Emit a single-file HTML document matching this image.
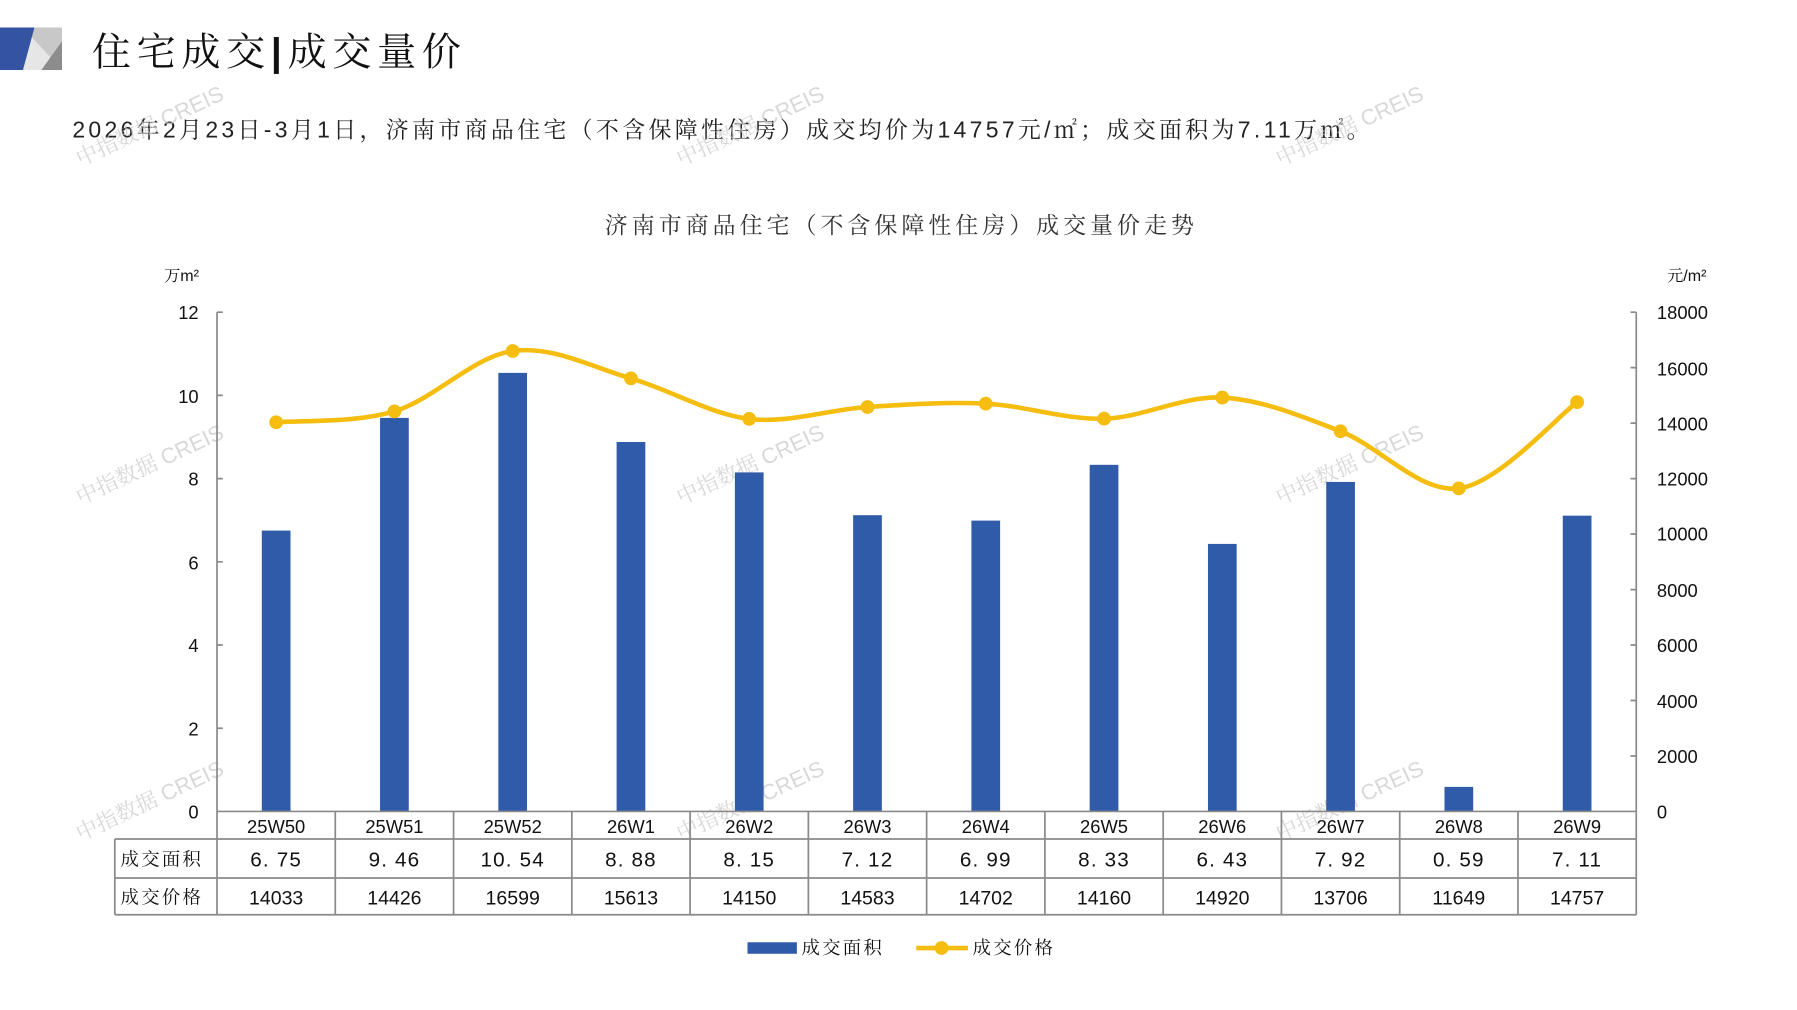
<!DOCTYPE html>
<html><head><meta charset="utf-8"><style>
html,body{margin:0;padding:0;background:#fff;}
svg{display:block;}
.s{font-family:"Liberation Sans","Noto Serif CJK SC",sans-serif;}
.c{font-family:"Noto Serif CJK SC","Noto Serif CJK JP","Liberation Serif",serif;}
</style></head><body>
<svg width="1797" height="1010" viewBox="0 0 1565 880" preserveAspectRatio="none" xmlns="http://www.w3.org/2000/svg">
<rect width="1565" height="880" fill="#fff"/>
<!-- logo -->
<polygon points="0,24 54,24 54,61 0,61" fill="#c8c8c8"/>
<polygon points="20,24 54,61 20,61" fill="#e6e6e6"/>
<polygon points="54,36 54,61 36,61 " fill="#8c8c8c"/>
<polygon points="0,24 30,24 20,61 0,61" fill="#3553a3"/>
<text x="80" y="57" class="c" font-size="34" fill="#111" letter-spacing="5">住宅成交<tspan font-family="Liberation Sans" font-weight="bold">|</tspan>成交量价</text>
<text x="63" y="120" class="s" font-size="20" fill="#222" letter-spacing="2.9">2026年2月23日-3月1日，济南市商品住宅（不含保障性住房）成交均价为14757元/㎡；成交面积为7.11万㎡。</text>
<text x="785" y="203" class="c" font-size="20" fill="#333" text-anchor="middle" letter-spacing="3.5">济南市商品住宅（不含保障性住房）成交量价走势</text>
<!-- watermarks -->
<g fill="#c8c8c8" opacity="0.7" font-size="19" class="s">
<text transform="translate(70,145) rotate(-25)">中指数据 CREIS</text>
<text transform="translate(593,145) rotate(-25)">中指数据 CREIS</text>
<text transform="translate(1115,145) rotate(-25)">中指数据 CREIS</text>
<text transform="translate(70,440) rotate(-25)">中指数据 CREIS</text>
<text transform="translate(593,440) rotate(-25)">中指数据 CREIS</text>
<text transform="translate(1115,440) rotate(-25)">中指数据 CREIS</text>
<text transform="translate(70,733) rotate(-25)">中指数据 CREIS</text>
<text transform="translate(593,733) rotate(-25)">中指数据 CREIS</text>
<text transform="translate(1115,733) rotate(-25)">中指数据 CREIS</text>
</g>
<!-- axes -->
<g stroke="#8a8a8a" stroke-width="1.5" fill="none">
<line x1="189" y1="272" x2="189" y2="707"/>
<line x1="1425" y1="272" x2="1425" y2="707"/>
<path d="M189 272h5M189 344.5h5M189 417h5M189 489.5h5M189 562h5M189 634.5h5"/>
<path d="M1425 272h-5M1425 320.3h-5M1425 368.7h-5M1425 417h-5M1425 465.3h-5M1425 513.7h-5M1425 562h-5M1425 610.3h-5M1425 658.7h-5"/>
</g>
<g class="s" font-size="16" fill="#111" text-anchor="end">
<text x="173" y="278">12</text><text x="173" y="351">10</text><text x="173" y="423">8</text><text x="173" y="496">6</text><text x="173" y="568">4</text><text x="173" y="641">2</text><text x="173" y="713">0</text>
</g>
<g class="s" font-size="16" fill="#111">
<text x="1443" y="278">18000</text><text x="1443" y="327">16000</text><text x="1443" y="375">14000</text><text x="1443" y="423">12000</text><text x="1443" y="471">10000</text><text x="1443" y="520">8000</text><text x="1443" y="568">6000</text><text x="1443" y="617">4000</text><text x="1443" y="665">2000</text><text x="1443" y="713">0</text>
</g>
<text x="143" y="245" class="s" font-size="14" fill="#111">万m²</text>
<text x="1452" y="245" class="s" font-size="14" fill="#111">元/m²</text>
<!-- bars -->
<g fill="#2f5ba8">
<rect x="228" y="462.3" width="25" height="244.7"/>
<rect x="331" y="364.1" width="25" height="342.9"/>
<rect x="434" y="324.9" width="25" height="382.1"/>
<rect x="537" y="385.1" width="25" height="321.9"/>
<rect x="640" y="411.6" width="25" height="295.4"/>
<rect x="743" y="448.9" width="25" height="258.1"/>
<rect x="846" y="453.6" width="25" height="253.4"/>
<rect x="949" y="405.0" width="25" height="302"/>
<rect x="1052" y="473.9" width="25" height="233.1"/>
<rect x="1155" y="419.9" width="25" height="287.1"/>
<rect x="1258" y="685.6" width="25" height="21.4"/>
<rect x="1361" y="449.3" width="25" height="257.7"/>
</g>
<!-- line -->
<path fill="none" stroke="#f5bd0f" stroke-width="4" d="M240.5 367.9 C257.7 366.3 309.2 368.75 343.5 358.4 C377.8 348.05 412.2 310.6 446.5 305.8 C480.8 301 515.2 319.8 549.5 329.7 C583.8 339.6 618.2 360.85 652.5 365 C686.8 369.15 721.2 356.8 755.5 354.6 C789.8 352.4 824.2 350 858.5 351.7 C892.8 353.4 927.2 365.7 961.5 364.8 C995.8 363.9 1030.2 344.6 1064.5 346.4 C1098.8 348.2 1133.2 362.6 1167.5 375.8 C1201.8 389 1236.2 429.7 1270.5 425.5 C1304.8 421.3 1356.3 362.9 1373.5 350.4"/>
<g fill="#f5bd0f">
<circle cx="240.5" cy="367.9" r="6"/><circle cx="343.5" cy="358.4" r="6"/><circle cx="446.5" cy="305.8" r="6"/><circle cx="549.5" cy="329.7" r="6"/><circle cx="652.5" cy="365" r="6"/><circle cx="755.5" cy="354.6" r="6"/><circle cx="858.5" cy="351.7" r="6"/><circle cx="961.5" cy="364.8" r="6"/><circle cx="1064.5" cy="346.4" r="6"/><circle cx="1167.5" cy="375.8" r="6"/><circle cx="1270.5" cy="425.5" r="6"/><circle cx="1373.5" cy="350.4" r="6"/>
</g>
<!-- table -->
<g stroke="#8a8a8a" stroke-width="1.5" fill="none">
<line x1="189" y1="707" x2="1425" y2="707"/>
<line x1="100" y1="731" x2="1425" y2="731"/>
<line x1="100" y1="765" x2="1425" y2="765"/>
<line x1="100" y1="797" x2="1425" y2="797"/>
<line x1="100" y1="731" x2="100" y2="797"/>
<path d="M189 707V797M292 707V797M395 707V797M498 707V797M601 707V797M704 707V797M807 707V797M910 707V797M1013 707V797M1116 707V797M1219 707V797M1322 707V797M1425 707V797"/>
</g>
<g class="s" font-size="16" fill="#111" text-anchor="middle">
<text x="240.5" y="726">25W50</text><text x="343.5" y="726">25W51</text><text x="446.5" y="726">25W52</text><text x="549.5" y="726">26W1</text><text x="652.5" y="726">26W2</text><text x="755.5" y="726">26W3</text><text x="858.5" y="726">26W4</text><text x="961.5" y="726">26W5</text><text x="1064.5" y="726">26W6</text><text x="1167.5" y="726">26W7</text><text x="1270.5" y="726">26W8</text><text x="1373.5" y="726">26W9</text>
</g>
<g class="s" font-size="18" fill="#111" text-anchor="middle" letter-spacing="1">
<text x="240.5" y="755">6. 75</text><text x="343.5" y="755">9. 46</text><text x="446.5" y="755">10. 54</text><text x="549.5" y="755">8. 88</text><text x="652.5" y="755">8. 15</text><text x="755.5" y="755">7. 12</text><text x="858.5" y="755">6. 99</text><text x="961.5" y="755">8. 33</text><text x="1064.5" y="755">6. 43</text><text x="1167.5" y="755">7. 92</text><text x="1270.5" y="755">0. 59</text><text x="1373.5" y="755">7. 11</text>
</g>
<g class="s" font-size="17" fill="#111" text-anchor="middle">
<text x="240.5" y="788">14033</text><text x="343.5" y="788">14426</text><text x="446.5" y="788">16599</text><text x="549.5" y="788">15613</text><text x="652.5" y="788">14150</text><text x="755.5" y="788">14583</text><text x="858.5" y="788">14702</text><text x="961.5" y="788">14160</text><text x="1064.5" y="788">14920</text><text x="1167.5" y="788">13706</text><text x="1270.5" y="788">11649</text><text x="1373.5" y="788">14757</text>
</g>
<g class="c" font-size="16" fill="#111" letter-spacing="2">
<text x="105" y="754">成交面积</text><text x="105" y="787">成交价格</text>
</g>
<!-- legend -->
<rect x="651" y="821" width="43" height="10" fill="#2f5ba8"/>
<text x="698" y="831" class="c" font-size="16" fill="#111" letter-spacing="2">成交面积</text>
<line x1="798" y1="826" x2="843" y2="826" stroke="#f5bd0f" stroke-width="4"/>
<circle cx="820" cy="826" r="6" fill="#f5bd0f"/>
<text x="847" y="831" class="c" font-size="16" fill="#111" letter-spacing="2">成交价格</text>
</svg>
</body></html>
